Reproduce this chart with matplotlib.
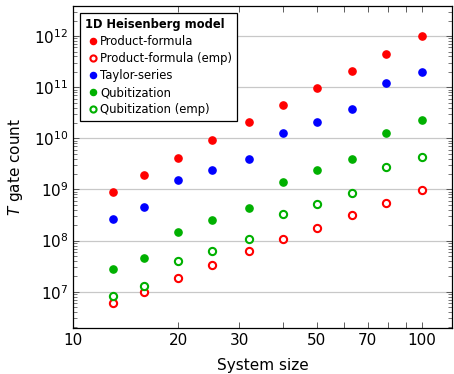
import numpy as np
import matplotlib
matplotlib.use("Agg")
import matplotlib.pyplot as plt
from matplotlib.ticker import FixedLocator, FixedFormatter, NullFormatter, LogFormatterSciNotation

# system sizes
n = [13, 16, 20, 25, 32, 40, 50, 63, 79, 100]

pf = [9.1e8, 1.96e9, 4.2e9, 9.1e9, 2.05e10, 4.4e10, 9.5e10, 2.06e11, 4.4e11, 1.0e12]
pf_emp = [5.9e6, 1.0e7, 1.85e7, 3.4e7, 6.2e7, 1.06e8, 1.8e8, 3.2e8, 5.5e8, 9.8e8]
taylor = [2.7e8, 4.6e8, 1.5e9, 2.4e9, 4.0e9, 1.29e10, 2.05e10, 3.7e10, 1.2e11, 2.0e11]
qub = [2.75e7, 4.5e7, 1.48e8, 2.5e8, 4.3e8, 1.43e9, 2.4e9, 3.9e9, 1.3e10, 2.25e10]
qub_emp = [8.2e6, 1.29e7, 4.0e7, 6.3e7, 1.06e8, 3.3e8, 5.2e8, 8.5e8, 2.7e9, 4.3e9]

xticks = [10, 20, 30, 50, 70, 100]
yticks = [1e7, 1e8, 1e9, 1e10, 1e11, 1e12]

red = "#ff0000"
blue = "#0000ff"
green = "#00b000"

plt.rcParams["font.family"] = "DejaVu Sans"
fig = plt.figure(figsize=(4.54, 3.74), dpi=100)
ax = fig.add_axes([73/454, 1 - 328/374, (452-73)/454, (328-6)/374])

ms = 5.2
ax.plot(n, pf, "o", color=red, ms=ms, ls="none", label="Product-formula")
ax.plot(n, pf_emp, "o", mfc="white", mec=red, mew=1.5, ms=ms, ls="none", label="Product-formula (emp)")
ax.plot(n, taylor, "o", color=blue, ms=ms, ls="none", label="Taylor-series")
ax.plot(n, qub, "o", color=green, ms=ms, ls="none", label="Qubitization")
ax.plot(n, qub_emp, "o", mfc="white", mec=green, mew=1.5, ms=ms, ls="none", label="Qubitization (emp)")

ax.set_xscale("log")
ax.set_yscale("log")
ax.set_xlim(10, 122)
ax.set_ylim(10**6.29, 10**12.59)

ax.xaxis.set_major_locator(FixedLocator(xticks))
ax.xaxis.set_major_formatter(FixedFormatter([str(t) for t in xticks]))
ax.xaxis.set_minor_locator(FixedLocator([40, 60, 80, 90]))
ax.xaxis.set_minor_formatter(NullFormatter())

yminor = [m * 10.0**e for e in range(6, 13) for m in range(2, 10)]
yminor = [v for v in yminor if 10**6.29 < v < 10**12.59]
ax.yaxis.set_major_locator(FixedLocator(yticks))
ax.yaxis.set_major_formatter(LogFormatterSciNotation())
ax.yaxis.set_minor_locator(FixedLocator(yminor))
ax.yaxis.set_minor_formatter(NullFormatter())

ax.tick_params(which="both", direction="in", top=True, right=True, labelsize=11, color="#444444")
ax.tick_params(which="major", length=4, width=0.6)
ax.tick_params(which="minor", length=3, width=0.5)
ax.tick_params(axis="x", which="minor", length=4, width=0.6)

ax.grid(True, axis="y", which="major", color="#c8c8c8", lw=0.9)
ax.set_axisbelow(True)
for s in ax.spines.values():
    s.set_linewidth(0.9)

ax.set_xlabel("System size", fontsize=11, labelpad=7)
ax.set_ylabel("$T$ gate count", fontsize=11, labelpad=6)

leg = ax.legend(title="1D Heisenberg model", loc="upper left", bbox_to_anchor=(0.018, 0.978),
                borderaxespad=0, fontsize=8.4, handletextpad=0.0, handlelength=1.3,
                borderpad=0.45, labelspacing=0.34, fancybox=False, framealpha=1,
                edgecolor="black", markerscale=0.85)
leg.get_title().set_fontweight("bold")
leg.get_title().set_fontsize(8.3)
leg._legend_box.align = "left"
leg.get_frame().set_linewidth(0.9)

fig.savefig("out.png", dpi=100)
